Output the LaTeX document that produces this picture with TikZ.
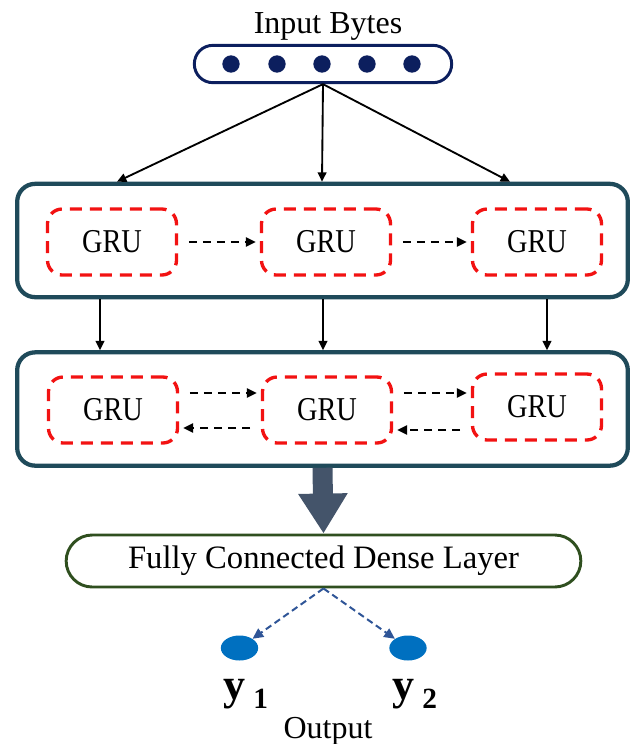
\documentclass[tikz,border=0pt]{standalone}
\usepackage{fontspec}
\setmainfont{Liberation Serif}
\newfontfamily\grufont{Liberation Serif}[FakeStretch=0.85]
\usetikzlibrary{arrows.meta,shapes.geometric,calc}
\definecolor{boxcol}{HTML}{1F4A5A}
\definecolor{navy}{HTML}{0C1F5E}
\definecolor{slate}{HTML}{44546A}
\definecolor{dgreen}{HTML}{2F4F1F}
\definecolor{ablue}{HTML}{2F5597}
\definecolor{dotblue}{HTML}{0070C0}
\definecolor{gred}{HTML}{F21212}
\begin{document}
\begin{tikzpicture}[x=0.75pt,y=-0.75pt,
  layerbox/.style={draw=boxcol, line width=3.2pt, rounded corners=13.5pt, minimum width=458pt, minimum height=85pt, inner sep=0pt},
  grubox/.style={draw=gred, line width=2.5pt, dash pattern=on 9pt off 6pt, rounded corners=11pt, minimum width=96.75pt, minimum height=49.5pt, font=\grufont\fontsize{25}{28}\selectfont, inner sep=0pt},
  solidarrow/.style={line width=1.4pt, -{Triangle[length=7pt,width=6.5pt]}},
  dasharrow/.style={line width=1.4pt, dash pattern=on 6pt off 4.5pt, -{Triangle[length=7.5pt,width=7pt]}, shorten <=8pt, shorten >=3pt},
  bluearrow/.style={ablue, line width=1.5pt, dash pattern=on 5pt off 3pt, -{Triangle[length=8pt,width=7.5pt]}},
  dot/.style={circle, fill=navy, minimum size=13pt, inner sep=0pt},
  outdot/.style={ellipse, fill=dotblue, minimum width=28pt, minimum height=18.75pt, inner sep=0pt}
]
\useasboundingbox (0,0) rectangle (631,744);

% input
\node[anchor=base, inner sep=0pt, font=\fontsize{24}{28}\selectfont] (title) at (328,33) {Input Bytes};
\node[draw=navy, line width=2.2pt, rounded corners=13.9pt, minimum width=193pt, minimum height=28pt, inner sep=0pt] (inp) at (323,64) {};
\foreach \i/\xx in {1/231,2/277,3/322,4/367,5/412}
  \node[dot] (d\i) at (\xx,64) {};

% layer boxes
\node[layerbox] (box1) at (322.5,240.5) {};
\node[layerbox] (box2) at (322.5,409) {};

% top arrows
\coordinate (t1) at (117,0);
\coordinate (t2) at (322,0);
\coordinate (t3) at (510,0);
\foreach \t in {t1,t2,t3}
  \draw[solidarrow] (inp.south) -- (\t |- box1.north);

% GRU row 1
\node[grubox] (g11) at (112,242) {GRU};
\node[grubox] (g12) at (326,242) {GRU};
\node[grubox] (g13) at (537,242) {GRU};
\draw[dasharrow] (g11.east) -- (g12.west);
\draw[dasharrow] (g12.east) -- (g13.west);

% vertical arrows
\coordinate (v1) at (100,0);
\coordinate (v2) at (323,0);
\coordinate (v3) at (547,0);
\foreach \v in {v1,v2,v3}
  \draw[solidarrow] (\v |- box1.south) -- (\v |- box2.north);

% GRU row 2
\node[grubox] (g21) at (113,410) {GRU};
\node[grubox] (g22) at (327,410) {GRU};
\node[grubox] (g23) at (537,407) {GRU};
\coordinate (f1) at ([yshift=12.75pt]g21.east);
\coordinate (f2) at ([yshift=12.75pt]g22.east);
\coordinate (r1) at ([yshift=-13.5pt]g22.west);
\coordinate (r2) at ([yshift=-17.25pt]g23.west);
\draw[dasharrow] (f1) -- (f1 -| g22.west);
\draw[dasharrow] (f2) -- (f2 -| g23.west);
\draw[dasharrow] (r1) -- (r1 -| g21.east);
\draw[dasharrow] (r2) -- (r2 -| g22.east);

% dense layer
\node[draw=dgreen, line width=2.2pt, rounded corners=19.5pt, minimum width=386pt, minimum height=39pt, inner sep=0pt, font=\fontsize{24.5}{28}\selectfont] (dense) at (323.5,561) {Fully Connected Dense Layer};
\draw[slate, line width=15pt, -{Triangle[length=30pt,width=35pt]}] (box2.south) -- (dense.north);

% outputs
\node[outdot] (e1) at (239.5,648) {};
\node[outdot] (e2) at (408,648) {};
\draw[bluearrow] (dense.south) -- (e1);
\draw[bluearrow] (dense.south) -- (e2);

\node[anchor=base west, inner sep=0pt, font=\bfseries\fontsize{33}{33}\selectfont] (y1) at (223,699) {y\hspace{6pt}\raisebox{-7pt}{\fontsize{22}{22}\selectfont 1}};
\node[anchor=base west, inner sep=0pt, font=\bfseries\fontsize{33}{33}\selectfont] (y2) at (392,699) {y\hspace{6pt}\raisebox{-7pt}{\fontsize{22}{22}\selectfont 2}};
\node[anchor=base, inner sep=0pt, font=\fontsize{24}{28}\selectfont] (out) at (328,738) {Output};
\end{tikzpicture}
\end{document}
